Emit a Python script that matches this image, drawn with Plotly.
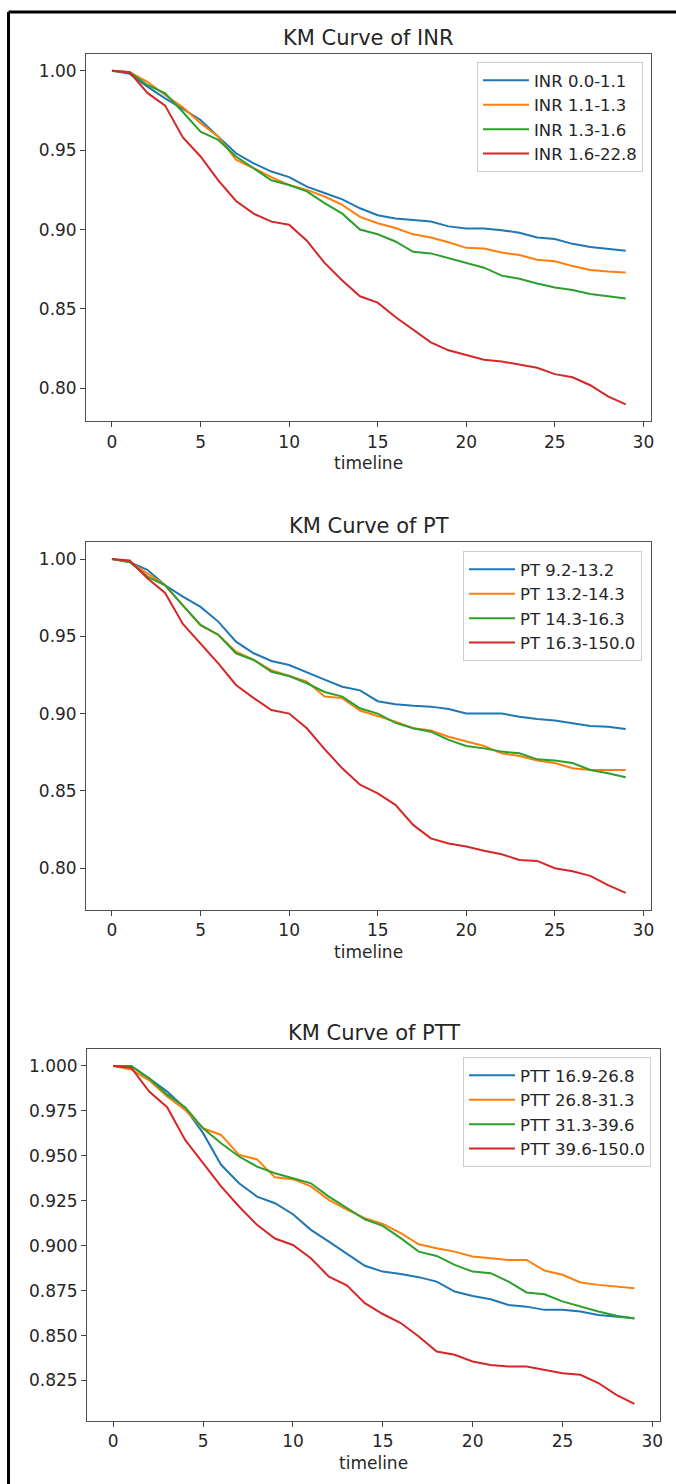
import plotly.graph_objects as go

W, H = 676, 1484
timeline = list(range(30))
colors = ["#1f77b4", "#ff7f0e", "#2ca02c", "#d62728"]

inr_labels = ["INR 0.0-1.1", "INR 1.1-1.3", "INR 1.3-1.6", "INR 1.6-22.8"]
inr_q1 = [1.0, 0.998, 0.990, 0.9826, 0.976, 0.969, 0.9585, 0.948, 0.9417, 0.9365, 0.933, 0.927, 0.923, 0.919, 0.9134,
          0.909, 0.907, 0.906, 0.905, 0.902, 0.9006, 0.9006, 0.8996, 0.898, 0.895, 0.894, 0.891, 0.889, 0.888, 0.8866]
inr_q2 = [1.0, 0.999, 0.993, 0.9847, 0.977, 0.967, 0.9585, 0.944, 0.9386, 0.933, 0.928, 0.925, 0.9208, 0.9155, 0.908,
          0.904, 0.901, 0.897, 0.895, 0.892, 0.8885, 0.888, 0.8855, 0.884, 0.881, 0.880, 0.877, 0.8746, 0.8736, 0.873]
inr_q3 = [1.0, 0.999, 0.991, 0.9857, 0.974, 0.9616, 0.9564, 0.946, 0.9386, 0.931, 0.928, 0.924, 0.9166, 0.910, 0.900,
          0.897, 0.8925, 0.886, 0.885, 0.882, 0.879, 0.876, 0.871, 0.869, 0.866, 0.8635, 0.862, 0.8595, 0.858, 0.8566]
inr_q4 = [1.0, 0.999, 0.986, 0.978, 0.958, 0.946, 0.931, 0.918, 0.910, 0.905, 0.903, 0.893, 0.879, 0.868, 0.858,
          0.854, 0.845, 0.837, 0.829, 0.824, 0.821, 0.818, 0.817, 0.815, 0.813, 0.809, 0.807, 0.802, 0.795, 0.790]

pt_labels = ["PT 9.2-13.2", "PT 13.2-14.3", "PT 14.3-16.3", "PT 16.3-150.0"]
pt_q1 = [1.0, 0.998, 0.993, 0.983, 0.9756, 0.969, 0.9595, 0.9465, 0.939, 0.934, 0.9314, 0.9265, 0.922, 0.9174, 0.915,
         0.908, 0.906, 0.905, 0.9045, 0.903, 0.900, 0.900, 0.900, 0.898, 0.8965, 0.8955, 0.8937, 0.892, 0.8915, 0.890]
pt_q2 = [1.0, 0.998, 0.9907, 0.983, 0.970, 0.957, 0.951, 0.940, 0.9347, 0.928, 0.9243, 0.9207, 0.911, 0.910, 0.902,
         0.8985, 0.8948, 0.8905, 0.889, 0.885, 0.882, 0.879, 0.8743, 0.8726, 0.8696, 0.868, 0.8646, 0.8635, 0.8635, 0.8635]
pt_q3 = [1.0, 0.998, 0.9886, 0.983, 0.970, 0.9573, 0.951, 0.939, 0.9347, 0.927, 0.9243, 0.9196, 0.914, 0.911, 0.9034,
         0.900, 0.894, 0.8905, 0.8883, 0.883, 0.879, 0.8775, 0.8754, 0.8743, 0.8704, 0.8696, 0.868, 0.8635, 0.8614, 0.8588]
pt_q4 = [1.0, 0.999, 0.9875, 0.978, 0.958, 0.9455, 0.9325, 0.9185, 0.910, 0.9023, 0.900, 0.8905, 0.877, 0.8646, 0.854,
         0.8484, 0.841, 0.828, 0.8193, 0.816, 0.814, 0.8113, 0.809, 0.8053, 0.8047, 0.800, 0.798, 0.795, 0.789, 0.784]

ptt_labels = ["PTT 16.9-26.8", "PTT 26.8-31.3", "PTT 31.3-39.6", "PTT 39.6-150.0"]
ptt_q1 = [1.0, 1.0, 0.9931, 0.9857, 0.9765, 0.9626, 0.945, 0.9347, 0.9273, 0.9236, 0.9175, 0.9088, 0.9023, 0.8958, 0.8888,
          0.8856, 0.8843, 0.8825, 0.880, 0.8745, 0.872, 0.8702, 0.867, 0.8661, 0.8643, 0.8643, 0.8634, 0.8615, 0.8606, 0.8597]
ptt_q2 = [1.0, 0.998, 0.992, 0.983, 0.9755, 0.9653, 0.9616, 0.9505, 0.948, 0.938, 0.937, 0.933, 0.9255, 0.920, 0.9153,
          0.9121, 0.907, 0.9008, 0.8986, 0.8967, 0.894, 0.893, 0.8921, 0.8921, 0.8862, 0.8838, 0.8795, 0.8782, 0.8773, 0.8763]
ptt_q3 = [1.0, 1.0, 0.993, 0.984, 0.977, 0.9653, 0.957, 0.9496, 0.944, 0.9403, 0.9375, 0.9347, 0.9273, 0.9208, 0.9147,
          0.911, 0.9042, 0.8967, 0.8943, 0.8893, 0.8856, 0.8847, 0.880, 0.874, 0.873, 0.869, 0.8661, 0.8634, 0.861, 0.8595]
ptt_q4 = [1.0, 0.999, 0.9857, 0.977, 0.9588, 0.946, 0.933, 0.9218, 0.9116, 0.904, 0.9004, 0.893, 0.8828, 0.878, 0.868,
          0.862, 0.857, 0.8495, 0.8411, 0.8393, 0.8356, 0.8337, 0.8328, 0.8328, 0.831, 0.8291, 0.8282, 0.8236, 0.817, 0.812]

titles = ["KM Curve of INR", "KM Curve of PT", "KM Curve of PTT"]
panels = [
    (inr_labels, [inr_q1, inr_q2, inr_q3, inr_q4]),
    (pt_labels, [pt_q1, pt_q2, pt_q3, pt_q4]),
    (ptt_labels, [ptt_q1, ptt_q2, ptt_q3, ptt_q4]),
]

# layout geometry (pixels)
boxes = [  # left, right, top, bottom
    (86.3, 651.4, 54.0, 421.0),
    (86.3, 651.4, 542.3, 909.6),
    (87.2, 660.4, 1049.0, 1420.8),
]
yranges = [[0.7795, 1.0105], [0.7732, 1.0108], [0.8026, 1.0094]]
yticks = [[0.80, 0.85, 0.90, 0.95, 1.00], [0.80, 0.85, 0.90, 0.95, 1.00],
          [0.825, 0.85, 0.875, 0.90, 0.925, 0.95, 0.975, 1.0]]
yfmt = [".2f", ".2f", ".3f"]
legend_pos = [(643, 62), (642, 551), (651, 1057)]

FONT = "DejaVu Sans"
TXT = "#262626"
fig = go.Figure()
layout = dict(width=W, height=H, margin=dict(l=0, r=0, t=0, b=0, pad=0, autoexpand=False),
              paper_bgcolor="white", plot_bgcolor="white", showlegend=True,
              font=dict(family=FONT, size=17, color=TXT))
annotations = []
shapes = []

for i, (labels, series) in enumerate(panels):
    n = "" if i == 0 else str(i + 1)
    l, r, t, b = boxes[i]
    leg = "legend" if i == 0 else f"legend{i + 1}"
    for j, (lab, vals) in enumerate(zip(labels, series)):
        fig.add_trace(go.Scatter(x=timeline, y=vals, mode="lines", name=lab,
                                 line=dict(color=colors[j], width=2),
                                 xaxis="x" + n, yaxis="y" + n, legend=leg))
    axstyle = dict(showline=True, mirror=True, linecolor="#505050", linewidth=1.4,
                   ticks="outside", ticklen=5, tickwidth=1.3, tickcolor="#404040",
                   showgrid=False, zeroline=False, tickfont=dict(size=17, family=FONT, color=TXT))
    layout["xaxis" + n] = dict(domain=[l / W, r / W], range=[-1.45, 30.45], tickvals=[0, 5, 10, 15, 20, 25, 30],
                               anchor="y" + n, **axstyle)
    layout["yaxis" + n] = dict(domain=[1 - b / H, 1 - t / H], range=yranges[i], tickvals=yticks[i],
                               tickformat=yfmt[i], anchor="x" + n, **axstyle)
    lx, ly = legend_pos[i]
    layout[leg] = dict(x=lx / W, y=1 - ly / H, xanchor="right", yanchor="top",
                       bgcolor="rgba(255,255,255,0.85)", bordercolor="#cccccc", borderwidth=1,
                       font=dict(size=16.5, family=FONT, color=TXT), itemwidth=46,
                       tracegroupgap=0)
    annotations.append(dict(text=titles[i], x=(l + r) / 2 / W, y=1 - (t - 16) / H, xref="paper", yref="paper",
                            showarrow=False, xanchor="center", yanchor="middle",
                            font=dict(size=21, family=FONT, color=TXT)))
    annotations.append(dict(text="timeline", x=(l + r) / 2 / W, y=1 - (b + 42) / H, xref="paper", yref="paper",
                            showarrow=False, xanchor="center", yanchor="middle",
                            font=dict(size=17, family=FONT, color=TXT)))

# outer frame (top and left edges)
shapes.append(dict(type="line", xref="paper", yref="paper", x0=8.5 / W, x1=1.0, y0=1 - 12 / H, y1=1 - 12 / H,
                   line=dict(color="black", width=3)))
shapes.append(dict(type="line", xref="paper", yref="paper", x0=8.5 / W, x1=8.5 / W, y0=0, y1=1 - 12 / H,
                   line=dict(color="black", width=3)))

layout["annotations"] = annotations
layout["shapes"] = shapes
fig.update_layout(**layout)
fig.write_html("out.html", config={"displayModeBar": False},
               post_script="document.body.style.margin='0px';")
